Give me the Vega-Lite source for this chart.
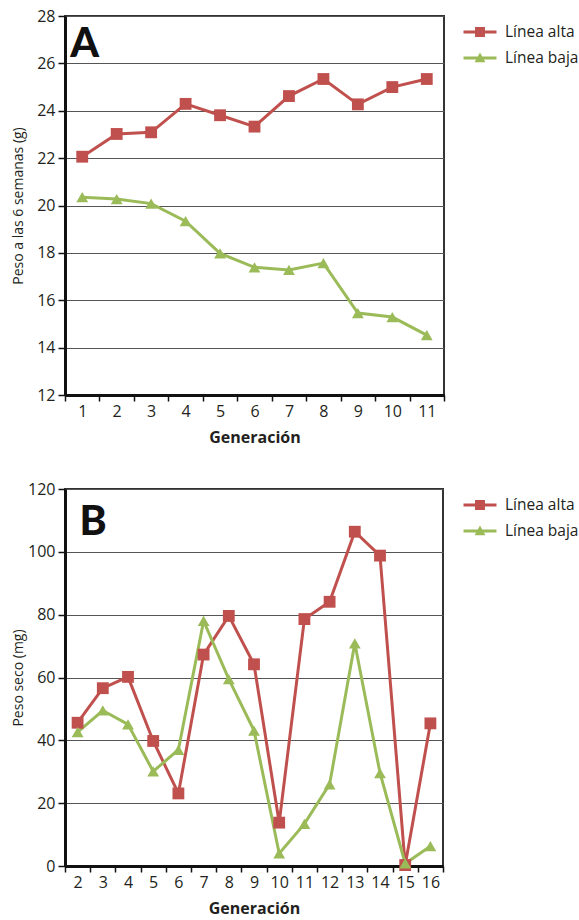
{
  "$schema": "https://vega.github.io/schema/vega-lite/v6.json",
  "padding": {"left": 10, "top": 7, "right": 0, "bottom": 0},
  "background": "white",
  "datasets": {
    "a": [
      {"gen": 1, "serie": "Línea alta", "peso": 22.06},
      {"gen": 2, "serie": "Línea alta", "peso": 23.02},
      {"gen": 3, "serie": "Línea alta", "peso": 23.09},
      {"gen": 4, "serie": "Línea alta", "peso": 24.29},
      {"gen": 5, "serie": "Línea alta", "peso": 23.81},
      {"gen": 6, "serie": "Línea alta", "peso": 23.33},
      {"gen": 7, "serie": "Línea alta", "peso": 24.62},
      {"gen": 8, "serie": "Línea alta", "peso": 25.34},
      {"gen": 9, "serie": "Línea alta", "peso": 24.27},
      {"gen": 10, "serie": "Línea alta", "peso": 25.0},
      {"gen": 11, "serie": "Línea alta", "peso": 25.34},
      {"gen": 1, "serie": "Línea baja", "peso": 20.35},
      {"gen": 2, "serie": "Línea baja", "peso": 20.27},
      {"gen": 3, "serie": "Línea baja", "peso": 20.08},
      {"gen": 4, "serie": "Línea baja", "peso": 19.34},
      {"gen": 5, "serie": "Línea baja", "peso": 17.98},
      {"gen": 6, "serie": "Línea baja", "peso": 17.39},
      {"gen": 7, "serie": "Línea baja", "peso": 17.28},
      {"gen": 8, "serie": "Línea baja", "peso": 17.57},
      {"gen": 9, "serie": "Línea baja", "peso": 15.46},
      {"gen": 10, "serie": "Línea baja", "peso": 15.29},
      {"gen": 11, "serie": "Línea baja", "peso": 14.53}
    ],
    "b": [
      {"gen": 2, "serie": "Línea alta", "peso": 45.6},
      {"gen": 3, "serie": "Línea alta", "peso": 56.6},
      {"gen": 4, "serie": "Línea alta", "peso": 60.2},
      {"gen": 5, "serie": "Línea alta", "peso": 39.8},
      {"gen": 6, "serie": "Línea alta", "peso": 23.1},
      {"gen": 7, "serie": "Línea alta", "peso": 67.3},
      {"gen": 8, "serie": "Línea alta", "peso": 79.6},
      {"gen": 9, "serie": "Línea alta", "peso": 64.2},
      {"gen": 10, "serie": "Línea alta", "peso": 13.8},
      {"gen": 11, "serie": "Línea alta", "peso": 78.6},
      {"gen": 12, "serie": "Línea alta", "peso": 84.1},
      {"gen": 13, "serie": "Línea alta", "peso": 106.4},
      {"gen": 14, "serie": "Línea alta", "peso": 98.8},
      {"gen": 15, "serie": "Línea alta", "peso": 0.3},
      {"gen": 16, "serie": "Línea alta", "peso": 45.4},
      {"gen": 2, "serie": "Línea baja", "peso": 42.6},
      {"gen": 3, "serie": "Línea baja", "peso": 49.5},
      {"gen": 4, "serie": "Línea baja", "peso": 45.1},
      {"gen": 5, "serie": "Línea baja", "peso": 30.1},
      {"gen": 6, "serie": "Línea baja", "peso": 37.0},
      {"gen": 7, "serie": "Línea baja", "peso": 78.0},
      {"gen": 8, "serie": "Línea baja", "peso": 59.5},
      {"gen": 9, "serie": "Línea baja", "peso": 43.1},
      {"gen": 10, "serie": "Línea baja", "peso": 4.0},
      {"gen": 11, "serie": "Línea baja", "peso": 13.4},
      {"gen": 12, "serie": "Línea baja", "peso": 26.0},
      {"gen": 13, "serie": "Línea baja", "peso": 70.9},
      {"gen": 14, "serie": "Línea baja", "peso": 29.6},
      {"gen": 15, "serie": "Línea baja", "peso": 0.8},
      {"gen": 16, "serie": "Línea baja", "peso": 6.3}
    ]
  },
  "vconcat": [
    {
      "width": 379,
      "height": 379,
      "data": {"name": "a"},
      "encoding": {
        "x": {
          "field": "gen", "type": "ordinal",
          "scale": {"domain": [1, 2, 3, 4, 5, 6, 7, 8, 9, 10, 11], "paddingInner": 0, "paddingOuter": 0},
          "axis": {"title": "Generación", "titleFontWeight": "bold", "titleFontSize": 16, "labelAngle": 0, "tickBand": "extent", "grid": false, "labelPadding": 2, "titlePadding": 10}
        },
        "y": {
          "field": "peso", "type": "quantitative",
          "scale": {"domain": [12, 28], "nice": false, "zero": false},
          "axis": {"title": "Peso a las 6 semanas (g)", "titleFontWeight": "normal", "titleFontSize": 14, "values": [12, 14, 16, 18, 20, 22, 24, 26, 28], "grid": true, "tickSize": 7, "labelPadding": 3, "titlePadding": 11}
        }
      },
      "layer": [
        {
          "mark": {"type": "line", "strokeWidth": 3},
          "encoding": {
            "color": {"field": "serie", "type": "nominal", "scale": {"domain": ["Línea alta", "Línea baja"], "range": ["#C0504D", "#9BBB59"]}, "legend": null}
          }
        },
        {
          "mark": {"type": "point", "filled": true, "opacity": 1, "size": 140},
          "encoding": {
            "color": {"field": "serie", "type": "nominal", "scale": {"domain": ["Línea alta", "Línea baja"], "range": ["#C0504D", "#9BBB59"]}, "legend": null},
            "shape": {"field": "serie", "type": "nominal", "scale": {"domain": ["Línea alta", "Línea baja"], "range": ["square", "triangle-up"]}, "legend": null}
          }
        },
        {
          "mark": {"type": "point", "filled": true, "opacity": 0, "size": 140},
          "encoding": {
            "color": {"field": "serie", "type": "nominal", "scale": {"domain": ["Línea alta", "Línea baja"], "range": ["#C0504D", "#9BBB59"]},
              "legend": {"title": null, "orient": "right", "offset": 20, "padding": 0, "symbolSize": 900, "symbolOpacity": 1, "labelFontSize": 15.5, "labelOffset": 9, "rowPadding": 1, "labelFont": "Open Sans", "labelColor": "#231f20"}},
            "shape": {"field": "serie", "type": "nominal", "scale": {"domain": ["Línea alta", "Línea baja"], "range": ["M-1.1,-0.1H1.1V0.1H-1.1Z M-0.33,-0.33H0.33V0.33H-0.33Z", "M-1.1,-0.1H1.1V0.1H-1.1Z M0,-0.36L0.36,0.28L-0.36,0.28Z"]},
              "legend": {"title": null, "orient": "right", "offset": 20, "padding": 0, "symbolSize": 900, "symbolOpacity": 1, "labelFontSize": 15.5, "labelOffset": 9, "rowPadding": 1, "labelFont": "Open Sans", "labelColor": "#231f20"}}
          }
        },
        {
          "transform": [{"filter": "datum.gen == 1 && datum.serie == 'Línea alta'"}],
          "mark": {"type": "text", "font": "Lato", "fontWeight": 900, "fontSize": 41, "align": "left", "baseline": "alphabetic", "dx": -12, "color": "#111"},
          "encoding": {
            "y": {"datum": 26.27, "type": "quantitative"},
            "text": {"value": "A"}
          }
        }
      ],
      "resolve": {"scale": {"color": "independent", "shape": "independent"}}
    },
    {
      "width": 378,
      "height": 377,
      "data": {"name": "b"},
      "encoding": {
        "x": {
          "field": "gen", "type": "ordinal",
          "scale": {"domain": [2, 3, 4, 5, 6, 7, 8, 9, 10, 11, 12, 13, 14, 15, 16], "paddingInner": 0, "paddingOuter": 0},
          "axis": {"title": "Generación", "titleFontWeight": "bold", "titleFontSize": 16, "labelAngle": 0, "tickBand": "extent", "grid": false, "labelPadding": 2, "titlePadding": 10}
        },
        "y": {
          "field": "peso", "type": "quantitative",
          "scale": {"domain": [0, 120], "nice": false},
          "axis": {"title": "Peso seco (mg)", "titleFontWeight": "normal", "titleFontSize": 14, "values": [0, 20, 40, 60, 80, 100, 120], "grid": true, "tickSize": 7, "labelPadding": 3, "titlePadding": 2}
        }
      },
      "layer": [
        {
          "mark": {"type": "line", "strokeWidth": 3},
          "encoding": {
            "color": {"field": "serie", "type": "nominal", "scale": {"domain": ["Línea alta", "Línea baja"], "range": ["#C0504D", "#9BBB59"]}, "legend": null}
          }
        },
        {
          "mark": {"type": "point", "filled": true, "opacity": 1, "size": 140},
          "encoding": {
            "color": {"field": "serie", "type": "nominal", "scale": {"domain": ["Línea alta", "Línea baja"], "range": ["#C0504D", "#9BBB59"]}, "legend": null},
            "shape": {"field": "serie", "type": "nominal", "scale": {"domain": ["Línea alta", "Línea baja"], "range": ["square", "triangle-up"]}, "legend": null}
          }
        },
        {
          "mark": {"type": "point", "filled": true, "opacity": 0, "size": 140},
          "encoding": {
            "color": {"field": "serie", "type": "nominal", "scale": {"domain": ["Línea alta", "Línea baja"], "range": ["#C0504D", "#9BBB59"]},
              "legend": {"title": null, "orient": "right", "offset": 21, "padding": 0, "symbolSize": 900, "symbolOpacity": 1, "labelFontSize": 15.5, "labelOffset": 9, "rowPadding": 1, "labelFont": "Open Sans", "labelColor": "#231f20"}},
            "shape": {"field": "serie", "type": "nominal", "scale": {"domain": ["Línea alta", "Línea baja"], "range": ["M-1.1,-0.1H1.1V0.1H-1.1Z M-0.33,-0.33H0.33V0.33H-0.33Z", "M-1.1,-0.1H1.1V0.1H-1.1Z M0,-0.36L0.36,0.28L-0.36,0.28Z"]},
              "legend": {"title": null, "orient": "right", "offset": 21, "padding": 0, "symbolSize": 900, "symbolOpacity": 1, "labelFontSize": 15.5, "labelOffset": 9, "rowPadding": 1, "labelFont": "Open Sans", "labelColor": "#231f20"}}
          }
        },
        {
          "transform": [{"filter": "datum.gen == 2 && datum.serie == 'Línea alta'"}],
          "mark": {"type": "text", "font": "Lato", "fontWeight": 900, "fontSize": 41, "align": "left", "baseline": "alphabetic", "dx": 2, "color": "#111"},
          "encoding": {
            "y": {"datum": 105.4, "type": "quantitative"},
            "text": {"value": "B"}
          }
        }
      ],
      "resolve": {"scale": {"color": "independent", "shape": "independent"}}
    }
  ],
  "spacing": 34,
  "resolve": {"scale": {"color": "independent", "shape": "independent"}},
  "config": {
    "font": "Open Sans",
    "view": {"stroke": "#333", "strokeWidth": 2},
    "axis": {
      "labelFont": "Open Sans", "labelFontSize": 16, "labelColor": "#231f20",
      "titleFont": "Open Sans", "titleColor": "#231f20",
      "domainColor": "#111", "domainWidth": 3,
      "tickColor": "#111", "tickWidth": 1.5, "tickSize": 6,
      "gridColor": "#555", "gridWidth": 1
    }
  }
}
